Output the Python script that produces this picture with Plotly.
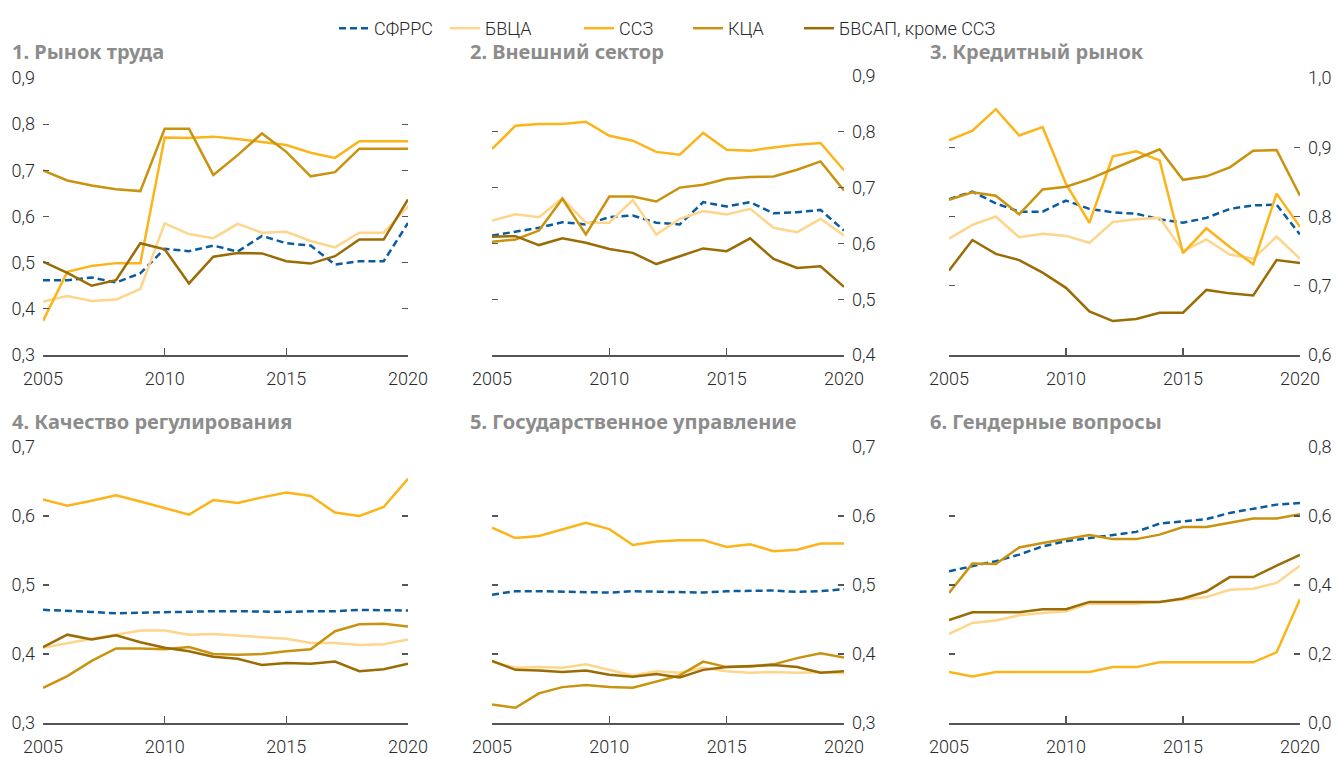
import plotly.graph_objects as go

years = list(range(2005, 2021))

series_names = ["СФРРС", "БВЦА", "ССЗ", "КЦА", "БВСАП, кроме ССЗ"]
colors = ["#0b5c9e", "#fdd68c", "#fbb41a", "#c9930f", "#9b6c05"]

panel_titles = ["1. Рынок труда", "2. Внешний сектор", "3. Кредитный рынок",
                "4. Качество регулирования", "5. Государственное управление",
                "6. Гендерные вопросы"]

# Panel 1: Labour market
p1_sfrrs = [0.462, 0.462, 0.468, 0.457, 0.477, 0.530, 0.525, 0.537, 0.524, 0.558, 0.542, 0.537, 0.496, 0.503, 0.503, 0.586]
p1_bvca = [0.416, 0.428, 0.417, 0.420, 0.443, 0.585, 0.562, 0.553, 0.584, 0.565, 0.567, 0.547, 0.533, 0.565, 0.565, 0.622]
p1_ssz = [0.374, 0.480, 0.493, 0.499, 0.499, 0.771, 0.770, 0.773, 0.768, 0.762, 0.755, 0.738, 0.727, 0.763, 0.763, 0.763]
p1_kca = [0.700, 0.678, 0.667, 0.659, 0.655, 0.790, 0.790, 0.690, 0.733, 0.780, 0.740, 0.687, 0.696, 0.747, 0.747, 0.747]
p1_bvsap = [0.502, 0.478, 0.450, 0.462, 0.542, 0.529, 0.455, 0.513, 0.521, 0.520, 0.503, 0.498, 0.514, 0.550, 0.550, 0.637]

# Panel 2: External sector
p2_sfrrs = [0.614, 0.621, 0.628, 0.638, 0.634, 0.647, 0.650, 0.637, 0.634, 0.674, 0.666, 0.674, 0.654, 0.656, 0.660, 0.623]
p2_bvca = [0.641, 0.652, 0.647, 0.681, 0.637, 0.637, 0.678, 0.616, 0.644, 0.658, 0.652, 0.662, 0.628, 0.620, 0.644, 0.614]
p2_ssz = [0.769, 0.811, 0.814, 0.814, 0.818, 0.793, 0.784, 0.764, 0.759, 0.798, 0.768, 0.766, 0.772, 0.777, 0.780, 0.731]
p2_kca = [0.603, 0.607, 0.623, 0.680, 0.616, 0.684, 0.684, 0.675, 0.700, 0.705, 0.716, 0.719, 0.720, 0.732, 0.747, 0.695]
p2_bvsap = [0.612, 0.613, 0.597, 0.609, 0.601, 0.590, 0.583, 0.563, 0.577, 0.591, 0.586, 0.609, 0.572, 0.556, 0.559, 0.522]

# Panel 3: Credit market
p3_sfrrs = [0.825, 0.836, 0.819, 0.807, 0.807, 0.823, 0.811, 0.806, 0.804, 0.796, 0.791, 0.798, 0.811, 0.816, 0.817, 0.774]
p3_bvca = [0.768, 0.788, 0.800, 0.770, 0.775, 0.772, 0.762, 0.792, 0.796, 0.798, 0.750, 0.767, 0.745, 0.739, 0.771, 0.739]
p3_ssz = [0.910, 0.924, 0.955, 0.917, 0.929, 0.847, 0.791, 0.887, 0.894, 0.881, 0.747, 0.783, 0.756, 0.731, 0.833, 0.785]
p3_kca = [0.824, 0.835, 0.830, 0.803, 0.839, 0.843, 0.854, 0.869, 0.883, 0.897, 0.853, 0.858, 0.871, 0.895, 0.896, 0.830]
p3_bvsap = [0.722, 0.766, 0.746, 0.737, 0.719, 0.697, 0.663, 0.649, 0.652, 0.661, 0.661, 0.694, 0.689, 0.686, 0.737, 0.733]

# Panel 4: Regulatory quality
p4_sfrrs = [0.464, 0.463, 0.461, 0.459, 0.460, 0.461, 0.461, 0.462, 0.462, 0.461, 0.461, 0.462, 0.462, 0.464, 0.463, 0.463]
p4_bvca = [0.409, 0.416, 0.422, 0.428, 0.434, 0.434, 0.428, 0.429, 0.427, 0.424, 0.422, 0.416, 0.416, 0.413, 0.414, 0.421]
p4_ssz = [0.624, 0.615, 0.622, 0.630, 0.621, 0.612, 0.602, 0.623, 0.619, 0.627, 0.634, 0.629, 0.605, 0.600, 0.613, 0.654]
p4_kca = [0.351, 0.368, 0.390, 0.408, 0.408, 0.407, 0.410, 0.400, 0.399, 0.400, 0.404, 0.407, 0.433, 0.443, 0.444, 0.440]
p4_bvsap = [0.410, 0.428, 0.421, 0.427, 0.417, 0.409, 0.404, 0.396, 0.393, 0.384, 0.387, 0.386, 0.389, 0.375, 0.378, 0.386]

# Panel 5: Governance
p5_sfrrs = [0.486, 0.491, 0.491, 0.490, 0.489, 0.489, 0.491, 0.490, 0.490, 0.489, 0.491, 0.492, 0.492, 0.490, 0.491, 0.494]
p5_bvca = [0.389, 0.380, 0.381, 0.380, 0.385, 0.377, 0.369, 0.375, 0.373, 0.380, 0.375, 0.373, 0.374, 0.373, 0.374, 0.372]
p5_ssz = [0.583, 0.568, 0.571, 0.580, 0.590, 0.581, 0.558, 0.563, 0.565, 0.565, 0.555, 0.559, 0.549, 0.551, 0.560, 0.560]
p5_kca = [0.327, 0.322, 0.343, 0.352, 0.355, 0.352, 0.351, 0.360, 0.369, 0.389, 0.381, 0.382, 0.385, 0.394, 0.401, 0.395]
p5_bvsap = [0.390, 0.377, 0.376, 0.374, 0.376, 0.370, 0.367, 0.371, 0.366, 0.377, 0.381, 0.382, 0.384, 0.381, 0.373, 0.375]

# Panel 6: Gender issues
p6_sfrrs = [0.440, 0.454, 0.469, 0.488, 0.512, 0.527, 0.536, 0.543, 0.554, 0.578, 0.585, 0.591, 0.609, 0.620, 0.633, 0.638]
p6_bvca = [0.258, 0.290, 0.297, 0.312, 0.319, 0.324, 0.346, 0.346, 0.346, 0.351, 0.357, 0.365, 0.386, 0.389, 0.406, 0.456]
p6_ssz = [0.148, 0.135, 0.148, 0.148, 0.148, 0.148, 0.148, 0.162, 0.162, 0.176, 0.176, 0.176, 0.176, 0.176, 0.205, 0.359]
p6_kca = [0.377, 0.462, 0.461, 0.509, 0.522, 0.533, 0.545, 0.533, 0.533, 0.546, 0.568, 0.568, 0.580, 0.593, 0.593, 0.605]
p6_bvsap = [0.298, 0.321, 0.321, 0.321, 0.330, 0.330, 0.351, 0.351, 0.351, 0.351, 0.361, 0.381, 0.423, 0.423, 0.456, 0.487]

panels = [
    [p1_sfrrs, p1_bvca, p1_ssz, p1_kca, p1_bvsap],
    [p2_sfrrs, p2_bvca, p2_ssz, p2_kca, p2_bvsap],
    [p3_sfrrs, p3_bvca, p3_ssz, p3_kca, p3_bvsap],
    [p4_sfrrs, p4_bvca, p4_ssz, p4_kca, p4_bvsap],
    [p5_sfrrs, p5_bvca, p5_ssz, p5_kca, p5_bvsap],
    [p6_sfrrs, p6_bvca, p6_ssz, p6_kca, p6_bvsap],
]

y_ranges = [(0.3, 0.9), (0.4, 0.9), (0.6, 1.0), (0.3, 0.7), (0.3, 0.7), (0.0, 0.8)]
y_ticks = [
    [0.3, 0.4, 0.5, 0.6, 0.7, 0.8, 0.9],
    [0.4, 0.5, 0.6, 0.7, 0.8, 0.9],
    [0.6, 0.7, 0.8, 0.9, 1.0],
    [0.3, 0.4, 0.5, 0.6, 0.7],
    [0.3, 0.4, 0.5, 0.6, 0.7],
    [0.0, 0.2, 0.4, 0.6, 0.8],
]
y_side = ["left", "right", "right", "left", "right", "right"]
x_ticks = [2005, 2010, 2015, 2020]

W, H = 1338, 757
# pixel boxes of plot areas (left, right, top, bottom)
boxes = [
    (43, 408, 78, 355),
    (492, 844, 76, 355),
    (949, 1300, 78, 355),
    (43, 408, 447, 723),
    (492, 844, 447, 723),
    (949, 1300, 447, 723),
]
title_pos = [(10, 52), (468, 52), (928, 52), (10, 422), (468, 422), (928, 422)]
# left pixel of each legend entry (text starts about 40px later)
legend_x = [334, 445, 579, 688, 799]

fig = go.Figure()
tick_font = dict(family="Roboto", size=18, color="#2a2a2a", weight=300)
legend_names = ["legend", "legend2", "legend3", "legend4", "legend5"]

for i, data in enumerate(panels):
    ax = "" if i == 0 else str(i + 1)
    for j, vals in enumerate(data):
        fig.add_trace(go.Scatter(
            x=years, y=vals, mode="lines", name=series_names[j],
            line=dict(color=colors[j], width=2.5,
                      dash="7px,4px" if j == 0 else "solid"),
            xaxis="x" + ax, yaxis="y" + ax,
            showlegend=(i == 0), legend=legend_names[j],
            hoverinfo="skip",
        ))
    l, r, t, b = boxes[i]
    xd = [l / W, r / W]
    yd = [1 - b / H, 1 - t / H]
    fig.layout["xaxis" + ax] = dict(
        domain=xd, range=[2005, 2020], tickvals=x_ticks,
        showline=True, linecolor="#555555", linewidth=1.5,
        ticks="inside", ticklen=7, tickwidth=1.5, tickcolor="#555555",
        showgrid=False, zeroline=False, tickfont=tick_font,
        anchor="y" + ax, fixedrange=True, automargin=False,
        ticklabelstandoff=7,
    )
    fig.layout["yaxis" + ax] = dict(
        domain=yd, range=list(y_ranges[i]), tickvals=y_ticks[i],
        tickformat=".1f", side=y_side[i],
        ticks="inside", ticklen=6, tickwidth=1.2, tickcolor="#555555",
        mirror="ticks", showline=False,
        showgrid=False, zeroline=False, tickfont=tick_font,
        anchor="x" + ax, fixedrange=True, ticklabelstandoff=7,
        automargin=False,
    )
    tx, ty = title_pos[i]
    fig.add_annotation(
        x=tx / W, y=1 - ty / H, xref="paper", yref="paper",
        xanchor="left", yanchor="middle", showarrow=False,
        text="<b>" + panel_titles[i] + "</b>",
        font=dict(family="Noto Sans", size=20, color="#8c8c8c"),
    )

legend_font = dict(family="Roboto", size=18, color="#2a2a2a", weight=300)
layout_legends = {}
for j, name in enumerate(legend_names):
    layout_legends[name] = dict(
        orientation="h", x=legend_x[j] / W, xanchor="left",
        y=1 - 10 / H, yanchor="top", font=legend_font,
        bgcolor="rgba(0,0,0,0)", borderwidth=0,
    )

fig.update_layout(
    width=W, height=H,
    margin=dict(l=0, r=0, t=0, b=0, autoexpand=False),
    paper_bgcolor="white", plot_bgcolor="white",
    separators=", ",
    showlegend=True,
    hovermode=False,
    **layout_legends,
)

fig.write_html("out.html", config={"displayModeBar": False, "staticPlot": True},
               post_script="document.body.style.margin='0';")
